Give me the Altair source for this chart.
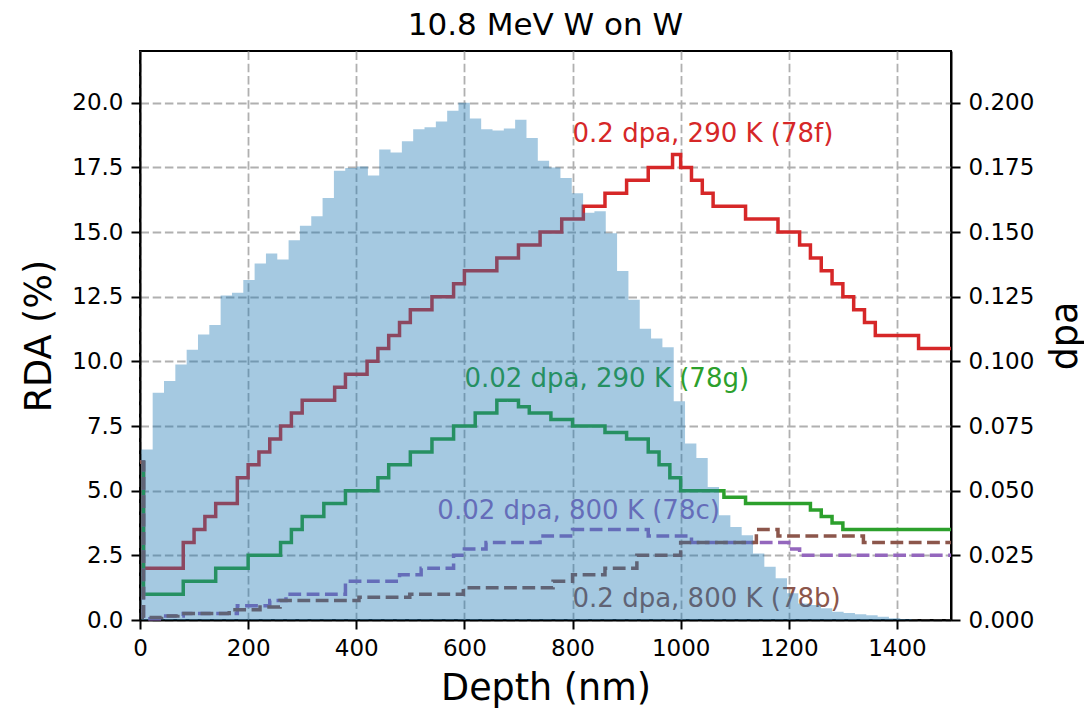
import altair as alt
import pandas as pd

FONT = "DejaVu Sans"

# ---------------- data ----------------
# RDA step profiles (step-after): depth (nm) where each step starts, RDA (%)
red_x = [0, 6.5, 80, 100, 120, 140, 180, 200, 220, 240, 260, 280, 300, 360, 380, 420,
         440, 460, 480, 500, 540, 580, 600, 660, 700, 740, 780, 820, 860, 900, 940, 985,
         1000, 1020, 1040, 1060, 1120, 1180, 1220, 1240, 1260, 1280, 1300, 1320, 1340,
         1360, 1440, 1500]
red_y = [6.1, 2.0, 3.0, 3.5, 4.0, 4.5, 5.5, 6.0, 6.5, 7.0, 7.5, 8.0, 8.5, 9.0, 9.5, 10.0,
         10.5, 11.0, 11.5, 12.0, 12.5, 13.0, 13.5, 14.0, 14.5, 15.0, 15.5, 16.0, 16.5, 17.0,
         17.5, 18.0, 17.5, 17.0, 16.5, 16.0, 15.5, 15.0, 14.5, 14.0, 13.5, 13.0, 12.5, 12.0,
         11.5, 11.0, 10.5, 10.5]

green_x = [0, 6.5, 80, 140, 200, 260, 280, 300, 340, 380, 440, 460, 500, 540, 580, 620,
           660, 700, 720, 760, 800, 860, 900, 940, 960, 980, 1000, 1080, 1120, 1240, 1260,
           1280, 1300, 1500]
green_y = [6.1, 1.0, 1.5, 2.0, 2.5, 3.0, 3.5, 4.0, 4.5, 5.0, 5.5, 6.0, 6.5, 7.0, 7.5, 8.0,
           8.5, 8.25, 8.0, 7.75, 7.5, 7.25, 7.0, 6.5, 6.0, 5.5, 5.0, 4.75, 4.5, 4.25, 4.0,
           3.75, 3.5, 3.5]

purple_x = [0, 6.5, 40, 80, 180, 240, 270, 380, 480, 520, 580, 600, 640, 740, 800, 940,
            1020, 1200, 1220, 1500]
purple_y = [6.1, 0.05, 0.15, 0.25, 0.55, 0.75, 1.0, 1.5, 1.75, 2.0, 2.5, 2.75, 3.0, 3.25,
            3.5, 3.25, 3.0, 2.75, 2.5, 2.5]

brown_x = [0, 6.5, 40, 70, 165, 222, 259, 405, 499, 598, 764, 800, 860, 919, 1000, 1140,
           1180, 1338, 1500]
brown_y = [6.1, 0.1, 0.15, 0.25, 0.4, 0.5, 0.75, 0.875, 1.0, 1.25, 1.5, 1.75, 2.0, 2.5,
           3.0, 3.5, 3.25, 3.0, 3.0]

series_names = ["0.2 dpa, 290 K (78f)", "0.02 dpa, 290 K (78g)",
                "0.02 dpa, 800 K (78c)", "0.2 dpa, 800 K (78b)"]
series_colors = ["#d62728", "#2ca02c", "#9467bd", "#8c564b"]

# annotation anchor points (depth nm, RDA %)
label_x = [800, 600, 550, 800]
label_y = [18.5, 9.0, 3.9, 0.5]

# dpa histogram (SRIM-like), uniform bins
hist_start = 2.5
hist_bin_width = 20.95
hist_dpa = [0.0659, 0.0879, 0.0924, 0.0988, 0.1045, 0.1104, 0.1141, 0.1255, 0.1265, 0.1315,
            0.1378, 0.1417, 0.1394, 0.1468, 0.1524, 0.1561, 0.1632, 0.1737, 0.1748, 0.1753,
            0.1719, 0.1819, 0.1808, 0.1851, 0.1897, 0.1905, 0.1927, 0.1969, 0.2000, 0.1939,
            0.1897, 0.1893, 0.1900, 0.1934, 0.1864, 0.1776, 0.1750, 0.1709, 0.1650, 0.1575,
            0.1580, 0.1495, 0.1349, 0.1238, 0.1126, 0.1088, 0.1055, 0.0846, 0.0682, 0.0626,
            0.0514, 0.0405, 0.0360, 0.0328, 0.0257, 0.0206, 0.0161, 0.0103, 0.0064, 0.0058,
            0.0045, 0.0032, 0.0027, 0.0022, 0.0018, 0.0013, 0.0007, 0.0003]

x_ticks = [0, 200, 400, 600, 800, 1000, 1200, 1400]
y_ticks = [0, 2.5, 5, 7.5, 10, 12.5, 15, 17.5, 20]
dpa_ticks = [0, 0.025, 0.05, 0.075, 0.1, 0.125, 0.15, 0.175, 0.2]

# ---------------- tables ----------------
rows = []
for name, xs, ys in zip(series_names, [red_x, green_x, purple_x, brown_x],
                        [red_y, green_y, purple_y, brown_y]):
    for i, (x, y) in enumerate(zip(xs, ys)):
        rows.append({"series": name, "depth": x, "rda": y, "order": i})
lines_df = pd.DataFrame(rows)

labels_df = pd.DataFrame({"series": series_names, "depth": label_x, "rda": label_y})

edges = [hist_start + hist_bin_width * k for k in range(len(hist_dpa) + 1)]
hist_df = pd.DataFrame({"depth": edges, "dpa": hist_dpa + [hist_dpa[-1]]})

# ---------------- scales & axes ----------------
W, H = 811, 569
x_scale = alt.Scale(domain=[0, 1500], nice=False, zero=False)
y_scale = alt.Scale(domain=[0, 22], nice=False)
dpa_scale = alt.Scale(domain=[0, 0.22], nice=False)
color_scale = alt.Scale(domain=series_names, range=series_colors)
dash_scale = alt.Scale(domain=series_names,
                       range=[[1, 0], [1, 0], [12.8, 5.5], [12.8, 5.5]])

common_axis = dict(labelFont=FONT, labelFontSize=23, labelColor="black",
                   titleFont=FONT, titleFontSize=36.5, titleFontWeight="normal",
                   titleColor="black", tickSize=9, tickWidth=2, tickColor="black",
                   domainColor="black", domainWidth=2, labelPadding=8,
                   labelFlush=False, labelOverlap=False, titleBaseline="middle",
                   titleAlign="center")

x_axis = alt.Axis(values=x_ticks, format="d", title="Depth (nm)", grid=True,
                  gridDash=[8.5, 3.7], gridColor="#b0b0b0", gridWidth=1.8,
                  titleX=W / 2, titleY=68, titleAngle=0, **common_axis)
y_axis = alt.Axis(values=y_ticks, format=".1f", title="RDA (%)", grid=True,
                  gridDash=[8.5, 3.7], gridColor="#b0b0b0", gridWidth=1.8,
                  titleX=-101, titleY=H / 2, titleAngle=270, orient="left",
                  **common_axis)
dpa_axis = alt.Axis(values=dpa_ticks, format=".3f", title="dpa", grid=False,
                    titleX=114, titleY=H / 2, titleAngle=270, orient="right",
                    **common_axis)

lines = alt.Chart(lines_df).mark_line(
    interpolate="step-after", strokeWidth=3.5, strokeJoin="miter"
).encode(
    x=alt.X("depth:Q", scale=x_scale, axis=x_axis),
    y=alt.Y("rda:Q", scale=y_scale, axis=y_axis),
    color=alt.Color("series:N", scale=color_scale, legend=None),
    strokeDash=alt.StrokeDash("series:N", scale=dash_scale, legend=None),
    detail="series:N",
    order="order:Q",
)

texts = alt.Chart(labels_df).mark_text(
    align="left", baseline="alphabetic", font=FONT, fontSize=26
).encode(
    x=alt.X("depth:Q", scale=x_scale, axis=x_axis),
    y=alt.Y("rda:Q", scale=y_scale, axis=y_axis),
    text="series:N",
    color=alt.Color("series:N", scale=color_scale, legend=None),
)

hist = alt.Chart(hist_df).mark_area(
    interpolate="step-after", color="#1f77b4", opacity=0.4
).encode(
    x=alt.X("depth:Q", scale=x_scale, axis=x_axis),
    y=alt.Y("dpa:Q", scale=dpa_scale, axis=dpa_axis),
)

chart = alt.layer(alt.layer(lines, texts), hist).resolve_scale(
    y="independent"
).properties(
    width=W, height=H,
    title=alt.TitleParams("10.8 MeV W on W", font=FONT, fontSize=31,
                          fontWeight="normal", color="black", anchor="middle",
                          offset=9),
    padding={"left": 132, "top": 43, "right": 133, "bottom": 91},
    autosize=alt.AutoSizeParams(type="none"),
).configure_view(stroke="black", strokeWidth=2)

chart.save("out.html", embed_options={"renderer": "svg", "actions": False})
